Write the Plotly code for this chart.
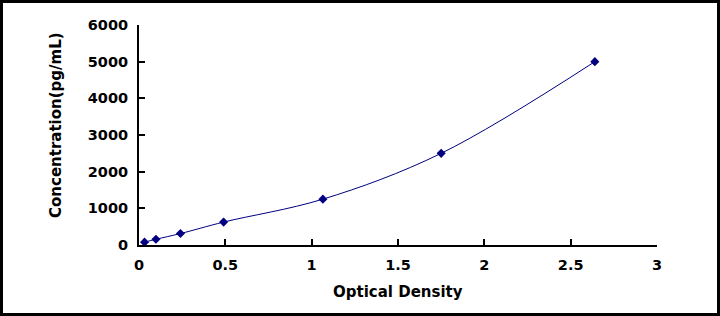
import plotly.graph_objects as go

optical_density = [0.032, 0.098, 0.24, 0.49, 1.065, 1.75, 2.64]
concentration = [78, 156, 312, 625, 1250, 2500, 5000]
x_ticks = [0, 0.5, 1, 1.5, 2, 2.5, 3]
x_tick_labels = ["0", "0.5", "1", "1.5", "2", "2.5", "3"]
y_ticks = [0, 1000, 2000, 3000, 4000, 5000, 6000]
y_tick_labels = ["0", "1000", "2000", "3000", "4000", "5000", "6000"]

W, H = 720, 316
L, R, T, B = 139, 63, 25, 71
pw, ph = W - L - R, H - T - B
navy = "#000080"
font = dict(family="DejaVu Sans", size=14.5, color="black")

fig = go.Figure()
fig.add_trace(go.Scatter(
    x=optical_density, y=concentration, mode="lines+markers",
    line=dict(color=navy, width=1, shape="spline", smoothing=1),
    marker=dict(symbol="diamond", size=7, color=navy),
    showlegend=False, cliponaxis=False,
))

axis_common = dict(
    showgrid=False, zeroline=False, showline=True, linecolor="black", linewidth=2,
    ticks="inside", ticklen=6, tickwidth=2, tickcolor="black",
    tickfont=dict(family="DejaVu Sans", size=14.5, color="black"),
)
fig.update_xaxes(range=[0, 3], tickvals=x_ticks,
                 ticktext=["<b>%s</b>" % t for t in x_tick_labels],
                 ticklabelstandoff=6, **axis_common)
fig.update_yaxes(range=[0, 6000], tickvals=y_ticks,
                 ticktext=["<b>%s</b>" % t for t in y_tick_labels],
                 ticklabelstandoff=6, **axis_common)

fig.add_annotation(text="<b>Optical Density</b>", xref="paper", yref="paper",
                   x=0.5, y=-(292 - (T + ph)) / ph, xanchor="center", yanchor="middle",
                   showarrow=False, font=dict(family="DejaVu Sans", size=15, color="black"))
fig.add_annotation(text="<b>Concentration(pg/mL)</b>", xref="paper", yref="paper",
                   x=-(L - 56) / pw, y=(T + ph - 125) / ph, xanchor="center", yanchor="middle",
                   textangle=-90, showarrow=False,
                   font=dict(family="DejaVu Sans", size=15, color="black"))

inset = 1.5
fig.add_shape(type="rect", xref="paper", yref="paper",
              x0=(inset - L) / pw, x1=(W - inset - L) / pw,
              y0=-(B - inset) / ph, y1=(ph + T - inset) / ph,
              line=dict(color="black", width=3), fillcolor="rgba(0,0,0,0)", layer="above")

fig.update_layout(
    width=W, height=H, margin=dict(l=L, r=R, t=T, b=B),
    paper_bgcolor="white", plot_bgcolor="white", font=font,
)
fig.write_html("out.html")
